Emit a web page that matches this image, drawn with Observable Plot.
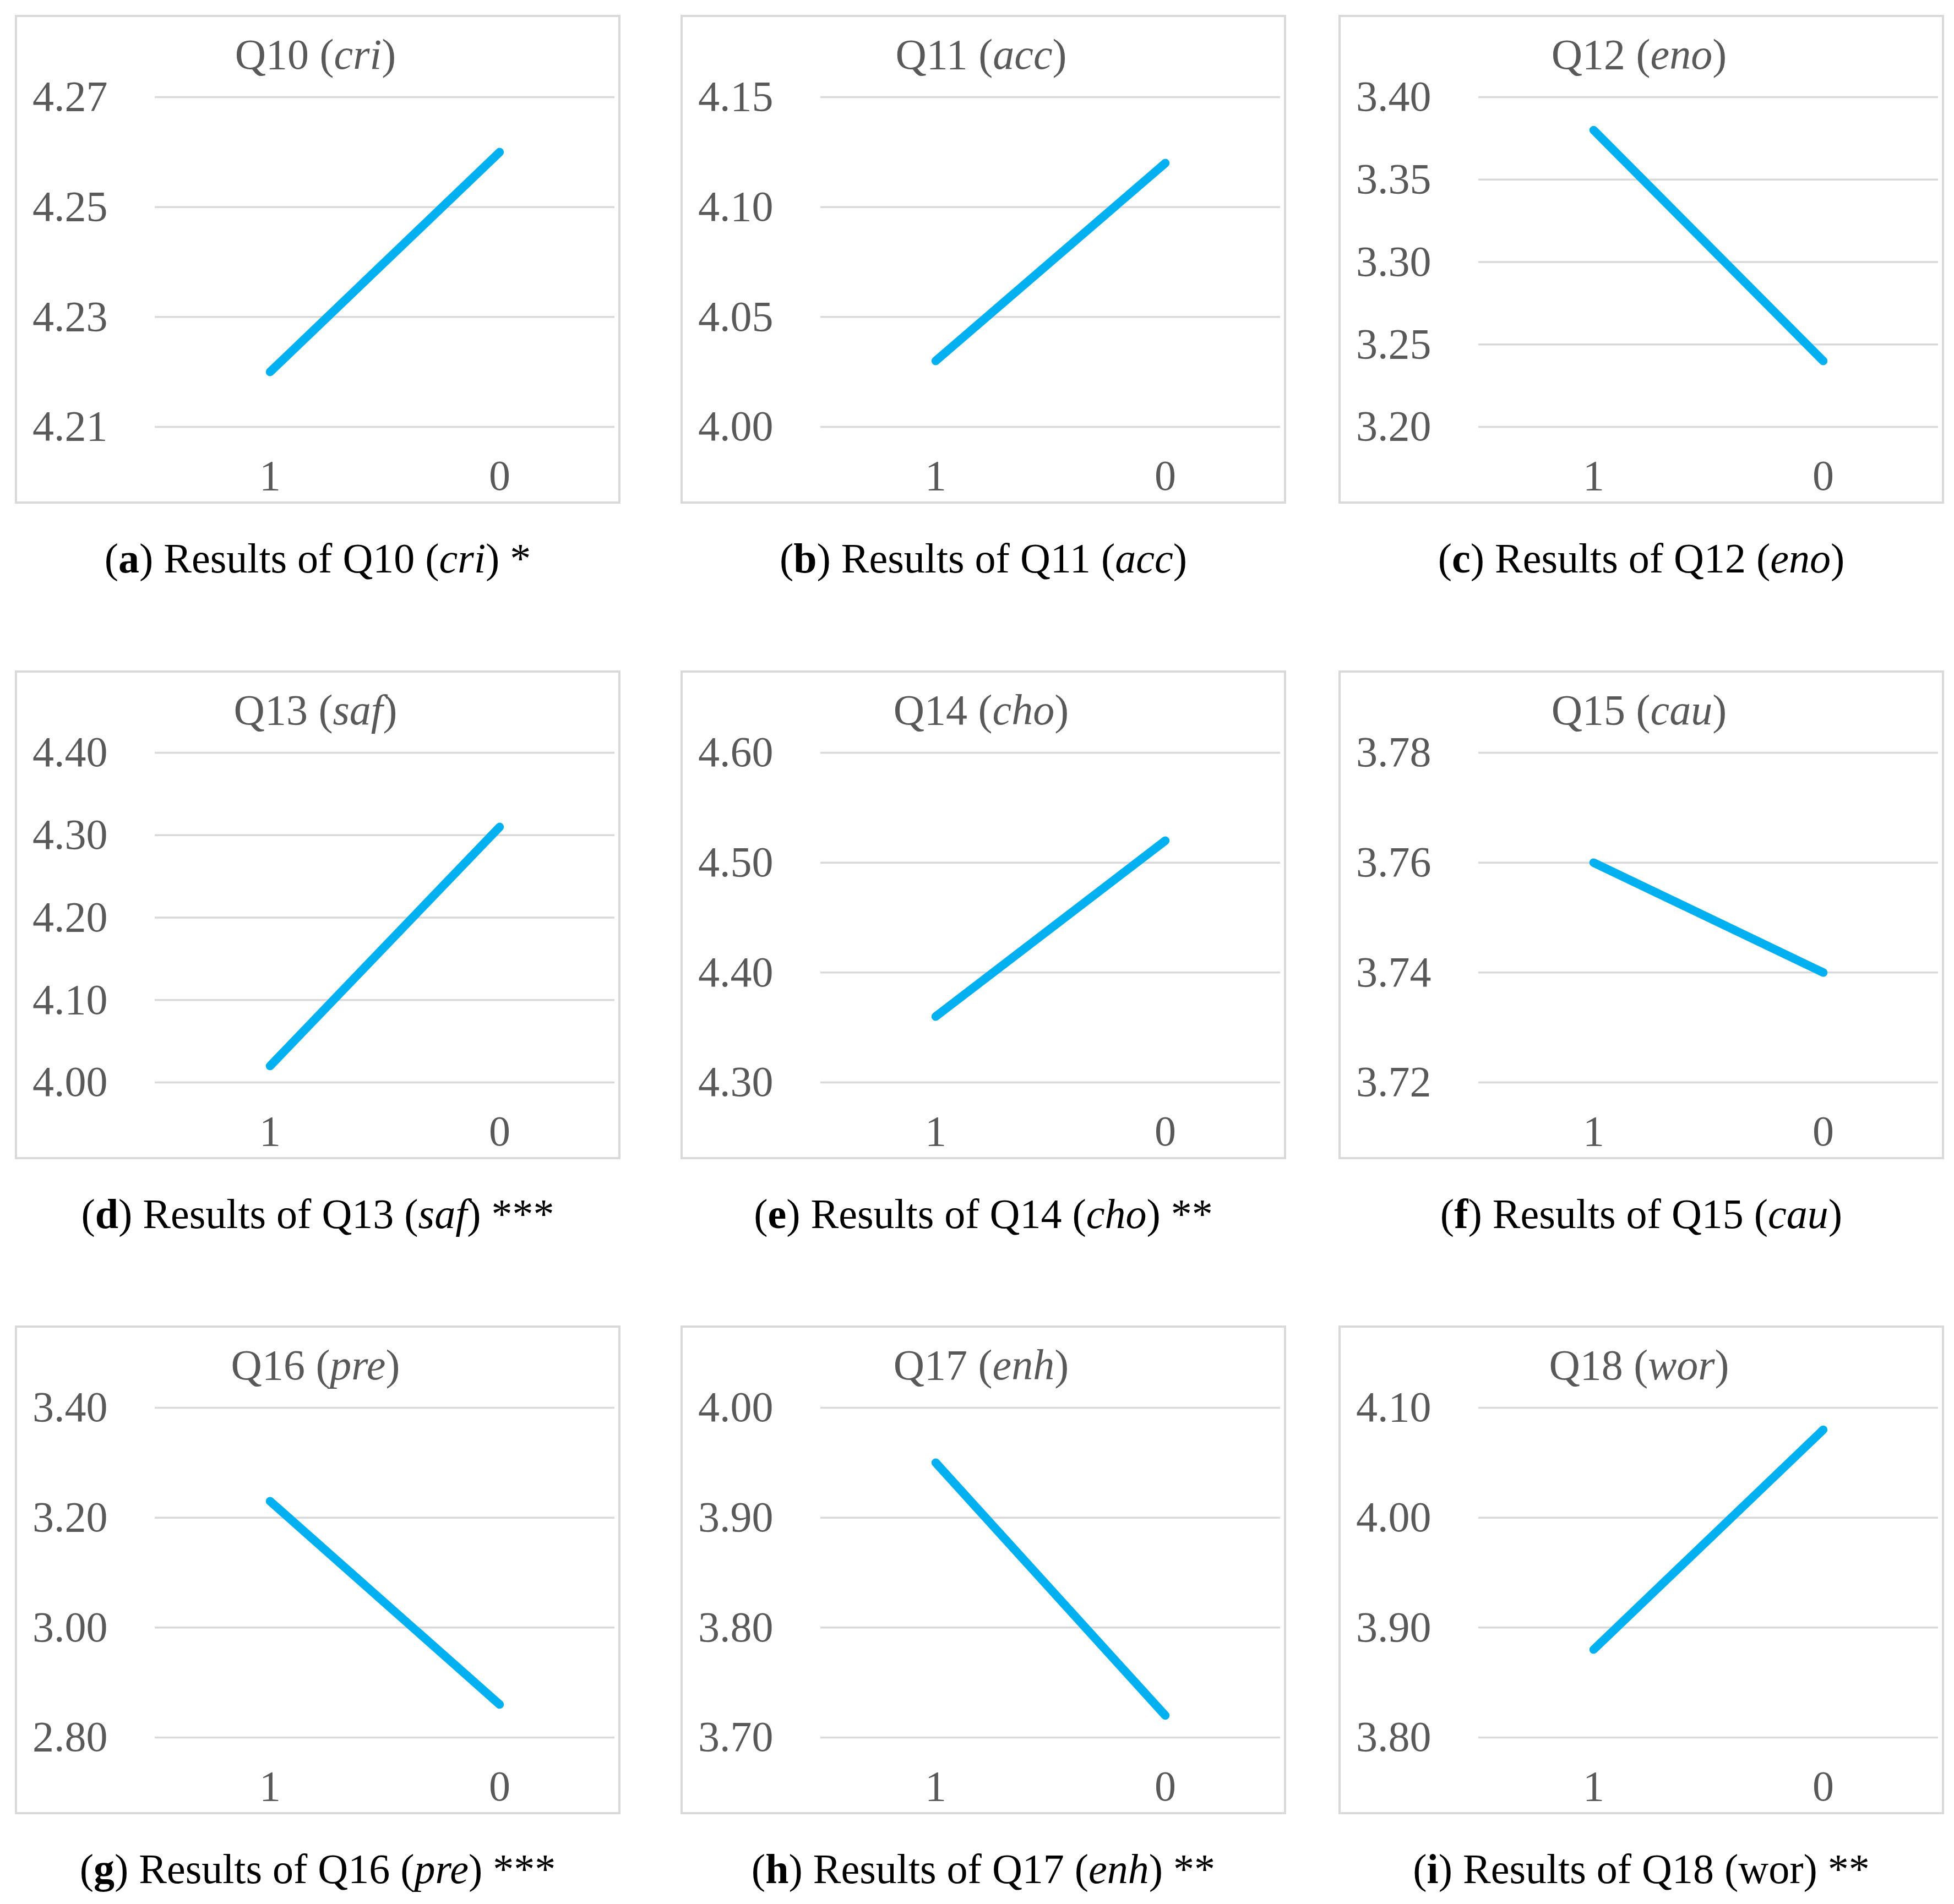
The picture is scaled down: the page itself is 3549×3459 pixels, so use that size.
<!DOCTYPE html>
<html>
<head>
<meta charset="utf-8">
<script src="https://cdn.jsdelivr.net/npm/d3@7"></script>
<script src="https://cdn.jsdelivr.net/npm/@observablehq/plot@0.6"></script>
<style>
  html, body { margin: 0; padding: 0; background: #fff; }
  body { width: 3549px; height: 3459px; position: relative; font-family: "Liberation Serif", "Times New Roman", serif; }
  .panel { position: absolute; box-sizing: border-box; border: 4px solid #D9D9D9; background: #fff; }
  .panel svg { position: absolute; left: -4px; top: -4px; max-width: none; overflow: visible; }
  .ptitle { position: absolute; left: -4px; width: 100%; text-align: center; color: #595959; font-size: 78px; line-height: 78px; white-space: nowrap; }
  .caption { position: absolute; text-align: center; color: #000; font-size: 76px; line-height: 76px; white-space: nowrap; }
</style>
</head>
<body>
<script>
// ---- data ----
const letters = ["a", "b", "c", "d", "e", "f", "g", "h", "i"];
const codes = ["Q10", "Q11", "Q12", "Q13", "Q14", "Q15", "Q16", "Q17", "Q18"];
const abbrs = ["cri", "acc", "eno", "saf", "cho", "cau", "pre", "enh", "wor"];
const significance = ["*", "", "", "***", "**", "", "***", "**", "**"];
const groups = ["1", "0"];
const valuesGroup1 = [4.22, 4.03, 3.38, 4.02, 4.36, 3.76, 3.23, 3.95, 3.88];
const valuesGroup0 = [4.26, 4.12, 3.24, 4.31, 4.52, 3.74, 2.86, 3.72, 4.08];
const yTicks = [
  [4.21, 4.23, 4.25, 4.27],
  [4.00, 4.05, 4.10, 4.15],
  [3.20, 3.25, 3.30, 3.35, 3.40],
  [4.00, 4.10, 4.20, 4.30, 4.40],
  [4.30, 4.40, 4.50, 4.60],
  [3.72, 3.74, 3.76, 3.78],
  [2.80, 3.00, 3.20, 3.40],
  [3.70, 3.80, 3.90, 4.00],
  [3.80, 3.90, 4.00, 4.10]
];
const captionItalic = [true, true, true, true, true, true, true, true, false];

// ---- layout ----
const colLeft = [27, 1236, 2431];
const rowTop = [27, 1218, 2408];
const PW = 1100, PH = 888;

letters.forEach((letter, i) => {
  const col = i % 3, row = Math.floor(i / 3);
  const left = colLeft[col], top = rowTop[row];
  const panel = document.createElement("div");
  panel.className = "panel";
  Object.assign(panel.style, {left: left + "px", top: top + "px", width: PW + "px", height: PH + "px"});
  document.body.appendChild(panel);

  const data = groups.map((g, k) => ({group: g, value: k === 0 ? valuesGroup1[i] : valuesGroup0[i]}));
  const ticks = yTicks[i];
  const chart = Plot.plot({
    width: PW,
    height: PH,
    marginLeft: 254,
    marginRight: 11,
    marginTop: 149,
    marginBottom: 140,
    style: {fontFamily: "'Liberation Serif', 'Times New Roman', serif", color: "#595959", background: "transparent", overflow: "visible"},
    x: {type: "point", domain: groups, padding: 0.5},
    y: {domain: [d3.min(ticks), d3.max(ticks)]},
    marks: [
      Plot.gridY(ticks, {stroke: "#D9D9D9", strokeOpacity: 1, strokeWidth: 3.5}),
      Plot.axisY(ticks, {tickSize: 0, tickPadding: 86, fontSize: 78, tickFormat: d3.format(".2f"), label: null}),
      Plot.axisX({tickSize: 0, tickPadding: 59, fontSize: 78, label: null}),
      Plot.line(data, {x: "group", y: "value", stroke: "#00B0F0", strokeWidth: 15.5, strokeLinecap: "round"})
    ]
  });
  panel.appendChild(chart);

  const t = document.createElement("div");
  t.className = "ptitle";
  t.style.top = (73 - 4 - 40) + "px";
  t.innerHTML = `${codes[i]} (<i>${abbrs[i]}</i>)`;
  panel.appendChild(t);

  const cap = document.createElement("div");
  cap.className = "caption";
  Object.assign(cap.style, {left: left + "px", width: PW + "px", top: (top + PH + 100 - 39) + "px"});
  const ab = captionItalic[i] ? `<i>${abbrs[i]}</i>` : abbrs[i];
  cap.innerHTML = `(<b>${letter}</b>) Results of ${codes[i]} (${ab})${significance[i] ? " " + significance[i] : ""}`;
  document.body.appendChild(cap);
});
</script>
</body>
</html>
